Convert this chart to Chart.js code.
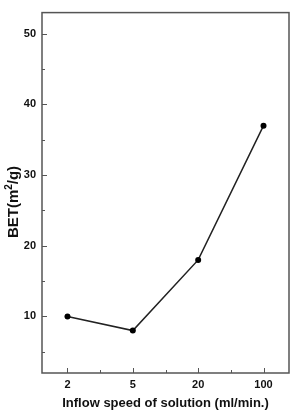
<!DOCTYPE html>
<html>
<head>
<meta charset="utf-8">
<script src="https://cdn.jsdelivr.net/npm/chart.js@4/dist/chart.umd.min.js"></script>
<style>
  html, body { margin: 0; padding: 0; background: #fff; }
  #box { width: 293px; height: 411px; }
</style>
</head>
<body>
<div id="box"><canvas id="myChart"></canvas></div>
<script>
// data
const xLabels = ['2', '5', '20', '100'];
const betValues = [10, 8, 18, 37];
const yTickValues = [10, 20, 30, 40, 50];

// points sit at category index 0..3
const points = betValues.map((v, i) => ({ x: i, y: v }));

const FONT = 'Liberation Sans, Arial, sans-serif';

// draws the plot frame, inward tick marks and the y title with a real superscript
const frameTicks = {
    id: 'frameTicks',
    afterDraw(chart) {
        const ctx = chart.ctx;
        const a = chart.chartArea;
        const xs = chart.scales.x;
        const ys = chart.scales.y;
        ctx.save();
        ctx.strokeStyle = '#555';
        ctx.lineWidth = 1.5;
        ctx.strokeRect(a.left, a.top, a.right - a.left, a.bottom - a.top);

        ctx.lineWidth = 1;
        ctx.beginPath();
        // x ticks, major on categories, minor half way
        for (let v = 0; v <= 3; v += 0.5) {
            const px = Math.round(xs.getPixelForValue(v)) + 0.5;
            const len = Number.isInteger(v) ? 5 : 3;
            ctx.moveTo(px, a.bottom);
            ctx.lineTo(px, a.bottom - len);
        }
        // y ticks every 5
        for (let v = 5; v <= 50; v += 5) {
            const py = Math.round(ys.getPixelForValue(v)) + 0.5;
            const len = v % 10 === 0 ? 5 : 3;
            ctx.moveTo(a.left, py);
            ctx.lineTo(a.left + len, py);
        }
        ctx.stroke();

        // y title: BET(m²/g)
        const parts = [
            { t: 'BET(m', f: 'bold 15px ' + FONT, dy: 0 },
            { t: '2', f: 'bold 10px ' + FONT, dy: -6 },
            { t: '/g)', f: 'bold 15px ' + FONT, dy: 0 }
        ];
        let total = 0;
        parts.forEach(p => { ctx.font = p.f; p.w = ctx.measureText(p.t).width; total += p.w; });
        ctx.translate(18, 202);
        ctx.rotate(-Math.PI / 2);
        ctx.fillStyle = '#111';
        ctx.textBaseline = 'alphabetic';
        let x = -total / 2;
        parts.forEach(p => {
            ctx.font = p.f;
            ctx.fillText(p.t, x, p.dy);
            x += p.w;
        });
        ctx.restore();
    }
};

var ctx = document.getElementById('myChart').getContext('2d');

var myChart = new Chart(ctx, {
    type: 'line',
    data: {
        datasets: [{
            label: 'BET',
            data: points,
            borderColor: '#222',
            borderWidth: 1.5,
            pointRadius: 3,
            pointBackgroundColor: '#000',
            pointBorderColor: '#000',
            pointBorderWidth: 0,
            tension: 0
        }]
    },
    options: {
        responsive: true,
        maintainAspectRatio: false,
        animation: false,
        layout: { padding: { top: 6, right: 2, left: 0, bottom: 0 } },
        plugins: {
            legend: { display: false },
            tooltip: { enabled: false }
        },
        scales: {
            x: {
                type: 'linear',
                min: -0.39,
                max: 3.39,
                grid: { display: false, drawTicks: false },
                border: { display: false },
                afterBuildTicks: (s) => { s.ticks = xLabels.map((_, i) => ({ value: i })); },
                afterFit: (s) => { s.height = 38; },
                ticks: {
                    padding: 5,
                    color: '#111',
                    font: { family: FONT, size: 11, weight: 'bold' },
                    callback: (v) => xLabels[v]
                },
                title: {
                    display: true,
                    text: 'Inflow speed of solution (ml/min.)',
                    color: '#111',
                    padding: 0,
                    font: { family: FONT, size: 13, weight: 'bold' }
                }
            },
            y: {
                min: 2,
                max: 53,
                grid: { display: false, drawTicks: false },
                border: { display: false },
                afterBuildTicks: (s) => { s.ticks = yTickValues.map(v => ({ value: v })); },
                afterFit: (s) => { s.width = 42; },
                ticks: {
                    padding: 6,
                    color: '#111',
                    font: { family: FONT, size: 11, weight: 'bold' }
                }
            }
        }
    },
    plugins: [frameTicks]
});
</script>
</body>
</html>
